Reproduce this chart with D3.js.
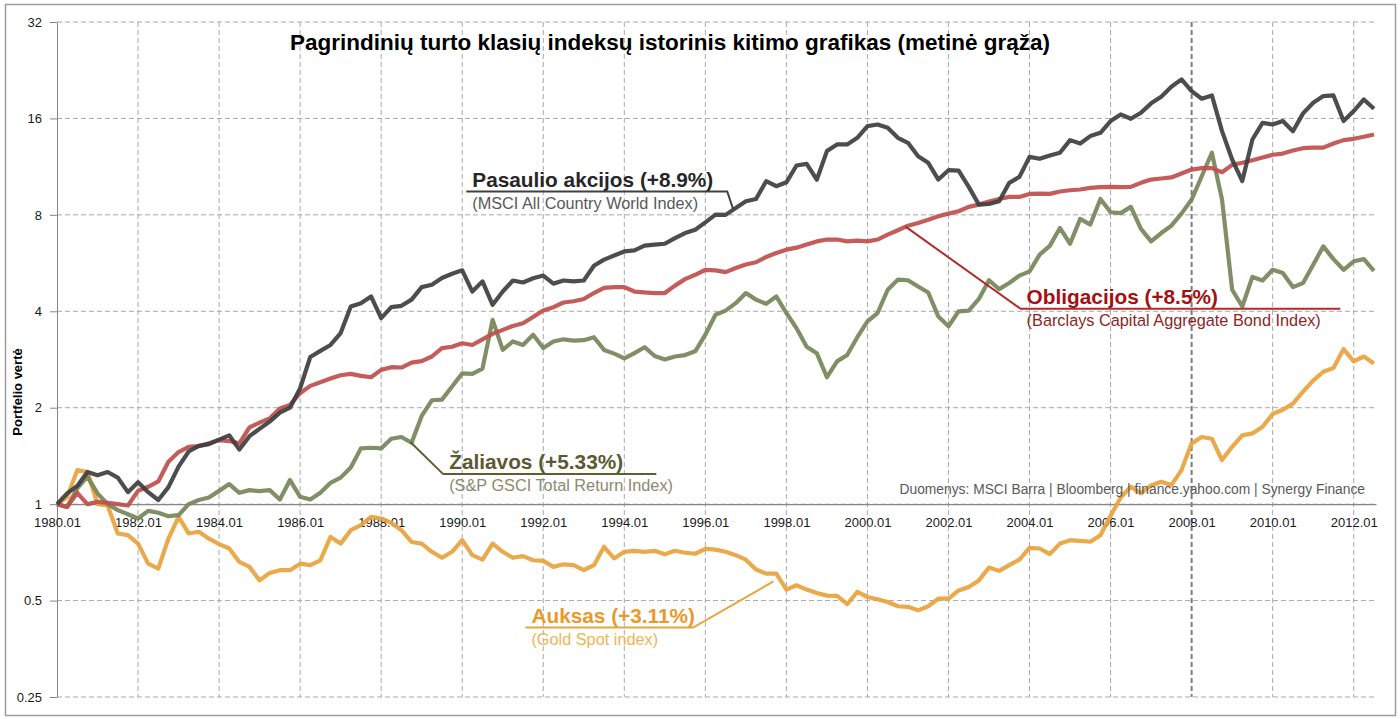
<!DOCTYPE html>
<html>
<head>
<meta charset="utf-8">
<script src="https://cdn.jsdelivr.net/npm/d3@7"></script>
<style>
  body { margin: 0; background: #fff; }
  text { font-family: "Liberation Sans", Arial, sans-serif; }
</style>
</head>
<body>
<div id="graph"></div>
<script>
// quarterly readings, first point = 1980.01, one value every 3 months
var startYear = 1980;

var msci = [
  1.00, 1.08, 1.14, 1.26, 1.23, 1.26, 1.21, 1.09, 1.17, 1.09,
  1.03, 1.13, 1.31, 1.46, 1.52, 1.54, 1.59, 1.64, 1.48, 1.63,
  1.72, 1.81, 1.93, 2.00, 2.30, 2.88, 3.01, 3.14, 3.42, 4.14,
  4.24, 4.45, 3.81, 4.12, 4.16, 4.35, 4.76, 4.84, 5.08, 5.24,
  5.37, 4.61, 4.96, 4.19, 4.61, 4.99, 4.92, 5.07, 5.17, 4.88,
  4.99, 4.96, 4.99, 5.55, 5.80, 5.97, 6.15, 6.20, 6.41, 6.46,
  6.50, 6.77, 7.02, 7.19, 7.58, 8.01, 8.00, 8.41, 8.82, 8.97,
  10.19, 9.83, 10.11, 11.41, 11.54, 10.3, 12.65, 13.27, 13.27, 13.92,
  15.14, 15.32, 14.96, 13.92, 13.43, 12.2, 11.63, 10.31, 11.03, 11.0,
  9.78, 8.61, 8.65, 8.82, 10.07, 10.51, 12.14, 11.97, 12.26, 12.5,
  13.69, 13.36, 14.09, 14.43, 15.7, 16.47, 15.96, 16.67, 17.83, 18.7,
  20.1, 21.19, 19.48, 18.43, 18.88, 14.6, 11.91, 10.2, 13.75, 15.5,
  15.32, 15.7, 14.6, 16.59, 17.91, 18.79, 18.88, 15.7, 16.87, 18.34,
  17.15
];

var bonds = [
  1.00, 0.98, 1.085, 1.00, 1.017, 1.01, 1.00, 0.99, 1.10, 1.133,
  1.177, 1.356, 1.454, 1.51, 1.518, 1.548, 1.585, 1.574, 1.548, 1.737,
  1.796, 1.853, 1.99, 2.04, 2.22, 2.34, 2.40, 2.466, 2.526, 2.55,
  2.514, 2.49, 2.625, 2.676, 2.67, 2.767, 2.794, 2.89, 3.07, 3.10,
  3.18, 3.14, 3.27, 3.40, 3.50, 3.60, 3.67, 3.84, 4.02, 4.12,
  4.26, 4.30, 4.37, 4.56, 4.73, 4.76, 4.76, 4.61, 4.58, 4.56,
  4.56, 4.81, 5.04, 5.20, 5.39, 5.37, 5.30, 5.46, 5.60, 5.69,
  5.91, 6.08, 6.23, 6.32, 6.46, 6.61, 6.70, 6.70, 6.61, 6.65,
  6.61, 6.70, 6.94, 7.16, 7.40, 7.55, 7.73, 7.92, 8.07, 8.21,
  8.47, 8.61, 8.80, 8.97, 9.10, 9.10, 9.30, 9.32, 9.30, 9.46,
  9.55, 9.60, 9.71, 9.76, 9.78, 9.76, 9.78, 10.07, 10.31, 10.39,
  10.47, 10.77, 11.08, 11.19, 11.19, 10.87, 11.46, 11.63, 11.85, 12.08,
  12.32, 12.43, 12.70, 12.92, 12.97, 12.97, 13.36, 13.69, 13.82, 14.02,
  14.26
];

var commodities = [
  1.00, 0.98, 1.12, 1.218, 1.08, 1.00, 0.958, 0.93, 0.902, 0.953,
  0.94, 0.917, 0.924, 1.00, 1.03, 1.049, 1.10, 1.155, 1.085, 1.106,
  1.098, 1.106, 1.034, 1.189, 1.054, 1.034, 1.085, 1.166, 1.21, 1.302,
  1.493, 1.50, 1.493, 1.60, 1.62, 1.555, 1.885, 2.11, 2.12, 2.33,
  2.56, 2.55, 2.65, 3.76, 3.03, 3.22, 3.14, 3.38, 3.07, 3.22,
  3.27, 3.24, 3.25, 3.32, 3.03, 2.95, 2.85, 2.96, 3.09, 2.90,
  2.83, 2.89, 2.92, 3.00, 3.38, 3.90, 4.02, 4.24, 4.56, 4.35,
  4.22, 4.45, 3.95, 3.54, 3.10, 2.96, 2.49, 2.79, 2.92, 3.32,
  3.72, 3.95, 4.67, 5.02, 5.00, 4.78, 4.58, 3.85, 3.59, 4.00,
  4.02, 4.37, 5.00, 4.69, 4.90, 5.17, 5.33, 6.01, 6.40, 7.28,
  6.50, 7.77, 7.46, 8.97, 8.15, 8.10, 8.47, 7.23, 6.61, 7.02,
  7.40, 8.07, 8.93, 10.56, 12.5, 8.93, 4.67, 4.14, 5.12, 4.99,
  5.39, 5.27, 4.76, 4.90, 5.59, 6.38, 5.82, 5.39, 5.73, 5.82,
  5.35
];

var gold = [
  1.00, 1.05, 1.277, 1.26, 1.00, 0.99, 0.81, 0.80, 0.753, 0.652,
  0.629, 0.781, 0.913, 0.81, 0.82, 0.78, 0.75, 0.727, 0.66, 0.637,
  0.578, 0.61, 0.622, 0.622, 0.652, 0.645, 0.668, 0.79, 0.753, 0.829,
  0.86, 0.913, 0.902, 0.874, 0.829, 0.762, 0.753, 0.71, 0.68, 0.71,
  0.772, 0.693, 0.671, 0.753, 0.71, 0.68, 0.688, 0.668, 0.665, 0.637,
  0.649, 0.645, 0.622, 0.645, 0.736, 0.677, 0.71, 0.715, 0.71, 0.715,
  0.698, 0.715, 0.705, 0.70, 0.725, 0.721, 0.71, 0.693, 0.671, 0.625,
  0.607, 0.607, 0.541, 0.558, 0.541, 0.528, 0.518, 0.517, 0.487, 0.532,
  0.513, 0.505, 0.495, 0.48, 0.478, 0.466, 0.48, 0.507, 0.507, 0.538,
  0.551, 0.578, 0.634, 0.619, 0.645, 0.671, 0.73, 0.727, 0.698, 0.753,
  0.772, 0.768, 0.763, 0.80, 0.92, 1.049, 1.133, 1.08, 1.144, 1.174,
  1.147, 1.277, 1.548, 1.62, 1.60, 1.373, 1.51, 1.64, 1.663, 1.745,
  1.912, 1.97, 2.06, 2.245, 2.43, 2.59, 2.66, 3.05, 2.79, 2.89,
  2.75
];

var yTicks = [0.25, 0.5, 1, 2, 4, 8, 16, 32];
var xTicks = [1980, 1982, 1984, 1986, 1988, 1990, 1992, 1994, 1996, 1998,
              2000, 2002, 2004, 2006, 2008, 2010, 2012];

var titleText = "Pagrindinių turto klasių indeksų istorinis kitimo grafikas (metinė grąža)";
var yLabel = "Portfelio vertė";
var sourceText = "Duomenys: MSCI Barra | Bloomberg | finance.yahoo.com | Synergy Finance";

var dates = msci.map(function(d, i) { return startYear + i / 4; });

var margin = {top: 22, right: 24, bottom: 22, left: 57},
    width = 1400 - margin.left - margin.right,
    height = 719 - margin.top - margin.bottom;

var svg = d3.select("#graph")
  .append("svg")
    .attr("width", 1400)
    .attr("height", 719);

// outer chart frame
svg.append("rect")
    .attr("x", 5.5).attr("y", 4.5)
    .attr("width", 1390).attr("height", 711)
    .attr("fill", "none")
    .attr("stroke", "#9c9c9c")
    .attr("stroke-width", 1.5);

var g = svg.append("g")
    .attr("transform", "translate(" + margin.left + "," + margin.top + ")");

var x = d3.scaleLinear()
  .domain([1980, 2012.55])
  .range([0, width]);

var y = d3.scaleLog()
  .base(2)
  .domain([0.25, 32])
  .range([height, 0]);

// grid
g.selectAll(".hgrid")
  .data(yTicks)
  .enter().append("line")
    .attr("x1", 0).attr("x2", width)
    .attr("y1", function(d) { return y(d); })
    .attr("y2", function(d) { return y(d); })
    .attr("stroke", "#a9a9a9")
    .attr("stroke-dasharray", "5,3");

g.selectAll(".vgrid")
  .data(xTicks.slice(1))
  .enter().append("line")
    .attr("x1", function(d) { return x(d); })
    .attr("x2", function(d) { return x(d); })
    .attr("y1", 0).attr("y2", height)
    .attr("stroke", function(d) { return d == 2008 ? "#7a7a7a" : "#a9a9a9"; })
    .attr("stroke-width", function(d) { return d == 2008 ? 2 : 1; })
    .attr("stroke-dasharray", "5,3");

// y axis
var yAxis = g.append("g")
  .call(d3.axisLeft(y)
    .tickValues(yTicks)
    .tickFormat(function(d) { return d; })
    .tickSize(7)
    .tickSizeOuter(0)
    .tickPadding(8));
yAxis.select(".domain").attr("stroke", "#868686");
yAxis.selectAll(".tick line").attr("stroke", "#868686");
yAxis.selectAll("text")
  .style("font-family", "'Liberation Sans', Arial, sans-serif")
  .style("font-size", "13px")
  .attr("fill", "#1a1a1a");

// x axis sits on the value 1 line
var xAxis = g.append("g")
  .attr("transform", "translate(0," + y(1) + ")")
  .call(d3.axisBottom(x)
    .tickValues(xTicks)
    .tickFormat(function(d) { return d + ".01"; })
    .tickSize(0)
    .tickSizeOuter(0)
    .tickPadding(14));
xAxis.select(".domain").attr("stroke", "#868686").attr("stroke-width", 1.2);
xAxis.selectAll("text")
  .style("font-family", "'Liberation Sans', Arial, sans-serif")
  .style("font-size", "13px")
  .attr("fill", "#1a1a1a");

// series
var series = [
  {name: "gold", values: gold, color: "#e8a33c"},
  {name: "commodities", values: commodities, color: "#76875a"},
  {name: "bonds", values: bonds, color: "#c0504d"},
  {name: "msci", values: msci, color: "#404040"}
];

var line = d3.line()
  .x(function(d, i) { return x(dates[i]); })
  .y(function(d) { return y(d); });

g.selectAll(".series")
  .data(series)
  .enter().append("path")
    .attr("class", "series")
    .attr("fill", "none")
    .attr("stroke", function(d) { return d.color; })
    .attr("stroke-width", 4.2)
    .attr("stroke-linejoin", "round")
    .attr("stroke-opacity", 0.93)
    .attr("d", function(d) { return line(d.values); });

// leader lines + labels, positions in chart units (year, value)
var notes = [
  {title: "Pasaulio akcijos (+8.9%)", sub: "(MSCI All Country World  Index)",
   at: [1996.69, 8.3], elbow: [1996.54, 9.46], end: 1990.1,
   line: "#404040", tcol: "#262626", scol: "#595959"},
  {title: "Obligacijos (+8.5%)", sub: "(Barclays Capital Aggregate Bond Index)",
   at: [2000.94, 7.35], elbow: [2003.78, 4.07], end: 2011.67,
   line: "#b22c2c", tcol: "#a50f12", scol: "#8e2626"},
  {title: "Žaliavos (+5.33%)", sub: "(S&P GSCI Total Return Index)",
   at: [1988.72, 1.563], elbow: [1989.53, 1.241], end: 1994.79,
   line: "#5e5e30", tcol: "#5a5a32", scol: "#8a8a6c"},
  {title: "Auksas (+3.11%)", sub: "(Gold Spot index)",
   at: [1997.68, 0.574], elbow: [1995.7, 0.412], end: 1991.56,
   line: "#e8a33c", tcol: "#e89a2a", scol: "#efb455"}
];

var note = g.selectAll(".note")
  .data(notes)
  .enter().append("g")
    .attr("class", "note");

note.append("path")
    .attr("fill", "none")
    .attr("stroke", function(d) { return d.line; })
    .attr("stroke-width", 2)
    .attr("d", function(d) {
      return "M" + x(d.at[0]) + "," + y(d.at[1]) +
             "L" + x(d.elbow[0]) + "," + y(d.elbow[1]) +
             "L" + x(d.end) + "," + y(d.elbow[1]);
    });

note.append("text")
    .attr("x", function(d) { return Math.min(x(d.elbow[0]), x(d.end)) + 6; })
    .attr("y", function(d) { return y(d.elbow[1]) - 5; })
    .attr("fill", function(d) { return d.tcol; })
    .style("font-size", "20.8px")
    .style("font-weight", "bold")
    .text(function(d) { return d.title; });

note.append("text")
    .attr("x", function(d) { return Math.min(x(d.elbow[0]), x(d.end)) + 6; })
    .attr("y", function(d) { return y(d.elbow[1]) + 17; })
    .attr("fill", function(d) { return d.scol; })
    .style("font-size", "16.3px")
    .text(function(d) { return d.sub; });

// source note
g.append("text")
    .attr("x", x(2012.28))
    .attr("y", y(1) - 10)
    .attr("text-anchor", "end")
    .attr("fill", "#595959")
    .style("font-size", "13.8px")
    .text(sourceText);

// title
svg.append("text")
    .attr("x", 670)
    .attr("y", 50)
    .attr("text-anchor", "middle")
    .attr("fill", "#000")
    .style("font-size", "22.5px")
    .style("font-weight", "bold")
    .text(titleText);

// y label
svg.append("text")
    .attr("transform", "translate(22," + 392 + ") rotate(-90)")
    .attr("text-anchor", "middle")
    .attr("fill", "#000")
    .style("font-size", "13px")
    .style("font-weight", "bold")
    .text(yLabel);
</script>
</body>
</html>
